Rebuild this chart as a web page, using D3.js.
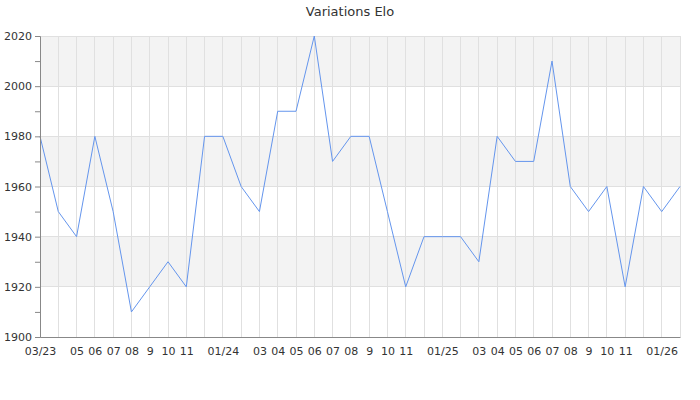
<!DOCTYPE html>
<html><head><meta charset="utf-8">
<script src="https://cdn.jsdelivr.net/npm/d3@7"></script>
<style>body{margin:0;background:#fff}svg{display:block;font-family:"DejaVu Sans",sans-serif}</style>
</head><body><svg id="c" width="700" height="400"></svg>
<script>
const months = ["03/23","04/23","05/23","06/23","07/23","08/23","09/23","10/23","11/23","12/23",
"01/24","02/24","03/24","04/24","05/24","06/24","07/24","08/24","09/24","10/24","11/24","12/24",
"01/25","02/25","03/25","04/25","05/25","06/25","07/25","08/25","09/25","10/25","11/25","12/25",
"01/26","02/26"];
const tickLabels = ["03/23","","05","06","07","08","9","10","11","",
"01/24","","03","04","05","06","07","08","9","10","11","",
"01/25","","03","04","05","06","07","08","9","10","11","",
"01/26",""];
const elo = [1980,1950,1940,1980,1950,1910,1920,1930,1920,1980,
1980,1960,1950,1990,1990,2020,1970,1980,1980,1950,1920,1940,
1940,1940,1930,1980,1970,1970,2010,1960,1950,1960,1920,1960,
1950,1960];
const yTicks = [1900,1920,1940,1960,1980,2000,2020];
const yMinor = [1910,1930,1950,1970,1990,2010];
const bands = [[1920,1940],[1960,1980],[2000,2020]];

const svg = d3.select("#c");
const L=40,R=680,T=36,B=337;
const x = d3.scalePoint().domain(months).range([L,R]);
const y = d3.scaleLinear().domain([1900,2020]).range([B,T]);

svg.append("text").attr("x",350).attr("y",16).attr("text-anchor","middle")
  .attr("font-size",13).attr("fill","#333").text("Variations Elo");

svg.selectAll("rect.band").data(bands).join("rect")
  .attr("x",L).attr("width",R-L).attr("y",d=>y(d[1])).attr("height",d=>y(d[0])-y(d[1]))
  .attr("fill","#f3f3f3");

svg.selectAll("line.vg").data(months).join("line")
  .attr("x1",d=>x(d)).attr("x2",d=>x(d)).attr("y1",T).attr("y2",B)
  .attr("stroke","#e0e0e0").attr("stroke-width",1).attr("shape-rendering","crispEdges");
svg.selectAll("line.hg").data(yTicks).join("line")
  .attr("x1",L).attr("x2",R).attr("y1",d=>y(d)).attr("y2",d=>y(d))
  .attr("stroke","#e0e0e0").attr("stroke-width",1).attr("shape-rendering","crispEdges");

const line = d3.line().x((d,i)=>x(months[i])).y(d=>y(d));
svg.append("path").datum(elo).attr("d",line).attr("fill","none")
  .attr("stroke","#6495ed").attr("stroke-width",1);

const yAx = svg.append("g").attr("transform",`translate(${L},0)`)
  .call(d3.axisLeft(y).tickValues(yTicks).tickSize(5).tickPadding(3).tickFormat(d3.format("d")));
yAx.select(".domain").attr("stroke","#888");
yAx.selectAll(".tick line").attr("stroke","#888");
yAx.selectAll("text").attr("font-size",11).attr("fill","#333").attr("font-family","DejaVu Sans");
svg.append("g").attr("transform",`translate(${L},0)`)
  .call(d3.axisLeft(y).tickValues(yMinor).tickSize(5).tickFormat(""))
  .call(g=>{g.select(".domain").remove();g.selectAll(".tick line").attr("stroke","#888");});

const xAx = svg.append("g").attr("transform",`translate(0,${B})`)
  .call(d3.axisBottom(x).tickSize(0).tickPadding(10).tickFormat((d,i)=>tickLabels[i]));
xAx.select(".domain").attr("stroke","#888");
xAx.selectAll("text").attr("font-size",11).attr("fill","#333").attr("font-family","DejaVu Sans");
</script></body></html>
